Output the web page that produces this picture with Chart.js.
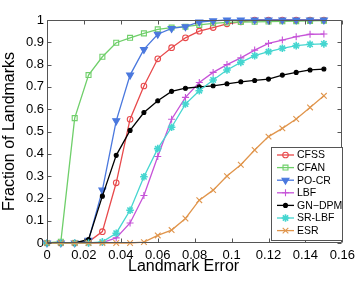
<!DOCTYPE html>
<html>
<head>
<meta charset="utf-8">
<script src="https://cdn.jsdelivr.net/npm/chart.js@4/dist/chart.umd.min.js"></script>
<style>
  html, body { margin: 0; padding: 0; background: #fff; }
  #wrap { width: 360px; height: 282px; position: relative; }
</style>
</head>
<body>
<div id="wrap"><canvas id="c" width="360" height="282"></canvas></div>
<script>
// Landmark error thresholds (x positions of the markers)
const errors = [0, 0.0075, 0.015, 0.0225, 0.03, 0.0375, 0.045, 0.0525, 0.06, 0.0675, 0.075,
                0.0825, 0.09, 0.0975, 0.105, 0.1125, 0.12, 0.1275, 0.135, 0.1425, 0.15];

const seriesNames = ['CFSS', 'CFAN', 'PO-CR', 'LBF', 'GN\u2212DPM', 'SR-LBF', 'ESR'];

const cfss  = [0, 0, 0, 0.005, 0.051, 0.27, 0.555, 0.704, 0.826, 0.876, 0.92, 0.95, 0.966, 0.983, 0.992, 1, 1, 1, 1, 1, 1];
const cfan  = [0, 0.006, 0.56, 0.753, 0.835, 0.898, 0.92, 0.94, 0.958, 0.966, 0.97, 0.978, 0.985, 0.989, 0.991, 0.992, 0.993, 0.994, 0.995, 0.996, 0.997];
const pocr  = [0, 0, 0, 0.012, 0.237, 0.548, 0.753, 0.868, 0.936, 0.962, 0.97, 0.991, 0.996, 1, 1, 1, 1, 1, 1, 1, 1];
const lbf   = [0, 0, 0, 0, 0.002, 0.023, 0.09, 0.213, 0.388, 0.555, 0.653, 0.72, 0.765, 0.80, 0.83, 0.865, 0.895, 0.91, 0.925, 0.936, 0.937];
const gndpm = [0, 0, 0, 0.016, 0.21, 0.393, 0.505, 0.585, 0.638, 0.68, 0.694, 0.70, 0.705, 0.714, 0.723, 0.729, 0.735, 0.753, 0.765, 0.776, 0.78];
const srlbf = [0, 0, 0, 0, 0.005, 0.044, 0.147, 0.297, 0.423, 0.519, 0.623, 0.683, 0.731, 0.776, 0.81, 0.84, 0.858, 0.873, 0.885, 0.891, 0.893];
const esr   = [0, 0, 0, 0, 0, 0, 0, 0.004, 0.034, 0.058, 0.11, 0.192, 0.237, 0.30, 0.351, 0.417, 0.477, 0.514, 0.556, 0.608, 0.66];

const xTicks = [0, 0.02, 0.04, 0.06, 0.08, 0.1, 0.12, 0.14, 0.16];
const yTicks = [0, 0.1, 0.2, 0.3, 0.4, 0.5, 0.6, 0.7, 0.8, 0.9, 1];
const xTickLabels = ['0', '0.02', '0.04', '0.06', '0.08', '0.1', '0.12', '0.14', '0.16'];
const yTickLabels = ['0', '0.1', '0.2', '0.3', '0.4', '0.5', '0.6', '0.7', '0.8', '0.9', '1'];

const allValues = [cfss, cfan, pocr, lbf, gndpm, srlbf, esr];

const styles = [
  { color: '#e8494b', pointStyle: 'circle',   radius: 2.8, rotation: 0,   fill: false },
  { color: '#6fcf6a', pointStyle: 'rect',     radius: 3.5, rotation: 0,   fill: false },
  { color: '#4a78de', pointStyle: 'triangle', radius: 4,   rotation: 180, fill: true  },
  { color: '#c653d8', pointStyle: 'cross',    radius: 3.5, rotation: 0,   fill: false },
  { color: '#000000', pointStyle: 'circle',   radius: 2,   rotation: 0,   fill: true  },
  { color: '#45d6d0', pointStyle: 'star',     radius: 3.8, rotation: 0,   fill: true  },
  { color: '#e0954c', pointStyle: 'crossRot', radius: 4,   rotation: 0,   fill: false }
];

const FONT = "'Liberation Sans', Arial, Helvetica, sans-serif";

const datasets = allValues.map((vals, i) => ({
  label: seriesNames[i],
  data: vals.map((v, k) => ({ x: errors[k], y: v })),
  borderColor: styles[i].color,
  backgroundColor: styles[i].fill ? styles[i].color : 'rgba(0,0,0,0)',
  pointBorderColor: styles[i].color,
  pointBackgroundColor: styles[i].fill ? styles[i].color : 'rgba(0,0,0,0)',
  pointStyle: styles[i].pointStyle,
  pointRadius: styles[i].radius,
  pointRotation: styles[i].rotation,
  pointBorderWidth: styles[i].pointStyle === 'star' ? 1.6 : 1.1,
  pointHoverRadius: styles[i].radius,
  borderWidth: 1.3,
  tension: 0,
  fill: false,
  clip: false,
  order: allValues.length - i
}));

function drawMarker(ctx, st, x, y) {
  ctx.save();
  ctx.strokeStyle = st.color;
  ctx.fillStyle = st.fill ? st.color : 'rgba(0,0,0,0)';
  ctx.lineWidth = st.pointStyle === 'star' ? 1.6 : 1.1;
  if (Chart.helpers && Chart.helpers.drawPoint) {
    Chart.helpers.drawPoint(ctx, { pointStyle: st.pointStyle, rotation: st.rotation, radius: st.radius, borderWidth: ctx.lineWidth }, x, y);
  }
  ctx.restore();
}

const framePlugin = {
  id: 'frame',
  afterDatasetsDraw(chart) {
    const { ctx, chartArea: a, scales } = chart;
    ctx.save();
    // box
    ctx.strokeStyle = '#555';
    ctx.lineWidth = 1;
    const L = Math.round(a.left) + 0.5, R = Math.round(a.right) - 0.5;
    const T = Math.round(a.top) + 0.5, B = Math.round(a.bottom) - 0.5;
    ctx.beginPath();
    ctx.rect(L, T, R - L, B - T);
    ctx.stroke();
    // inward ticks
    const tl = 4;
    ctx.beginPath();
    xTicks.forEach(v => {
      const px = Math.round(scales.x.getPixelForValue(v)) + 0.5;
      ctx.moveTo(px, B); ctx.lineTo(px, B - tl);
      ctx.moveTo(px, T); ctx.lineTo(px, T + tl);
    });
    yTicks.forEach(v => {
      const py = Math.round(scales.y.getPixelForValue(v)) + 0.5;
      ctx.moveTo(L, py); ctx.lineTo(L + tl, py);
      ctx.moveTo(R, py); ctx.lineTo(R - tl, py);
    });
    ctx.stroke();

    // legend (inside, bottom-right)
    const lx = 271, ly = 147, lw = 71, lh = 93;
    ctx.fillStyle = '#fff';
    ctx.fillRect(lx, ly, lw, lh);
    ctx.strokeStyle = '#555';
    ctx.strokeRect(lx + 0.5, ly + 0.5, lw, lh);
    ctx.font = '10.5px ' + FONT;
    ctx.textBaseline = 'middle';
    ctx.textAlign = 'left';
    seriesNames.forEach((name, i) => {
      const y = 155 + i * 12.6;
      const st = styles[i];
      ctx.strokeStyle = st.color;
      ctx.lineWidth = 1.3;
      ctx.beginPath();
      ctx.moveTo(277, y); ctx.lineTo(294, y);
      ctx.stroke();
      drawMarker(ctx, st, 285.5, y);
      ctx.fillStyle = '#000';
      ctx.fillText(name, 297, y + 0.5);
    });
    ctx.restore();
  }
};

new Chart(document.getElementById('c'), {
  type: 'line',
  data: { datasets },
  plugins: [framePlugin],
  options: {
    responsive: false,
    animation: false,
    devicePixelRatio: 1,
    layout: { padding: { top: 20, right: 15, left: 0, bottom: 0 } },
    plugins: { legend: { display: false }, tooltip: { enabled: false } },
    scales: {
      x: {
        type: 'linear', min: 0, max: 0.16,
        afterBuildTicks: s => { s.ticks = xTicks.map(v => ({ value: v })); },
        afterFit: s => { s.height = 39; },
        grid: { display: false, drawTicks: false },
        border: { display: false },
        ticks: {
          padding: 5, color: '#000', maxRotation: 0, autoSkip: false,
          font: { family: FONT, size: 13 },
          callback: (v) => xTickLabels[xTicks.indexOf(v)] ?? ''
        },
        title: {
          display: true, text: 'Landmark Error     ', color: '#000',
          font: { family: FONT, size: 16 }, padding: { top: 0, bottom: 6 }
        }
      },
      y: {
        type: 'linear', min: 0, max: 1,
        afterBuildTicks: s => { s.ticks = yTicks.map(v => ({ value: v })); },
        afterFit: s => { s.width = 47; },
        grid: { display: false, drawTicks: false },
        border: { display: false },
        ticks: {
          padding: 3, color: '#000', autoSkip: false,
          font: { family: FONT, size: 13 },
          callback: (v) => yTickLabels[yTicks.indexOf(v)] ?? ''
        },
        title: {
          display: true, text: 'Fraction of Landmarks', color: '#000',
          font: { family: FONT, size: 16 }, padding: { top: 0, bottom: 0 }
        }
      }
    }
  }
});
</script>
</body>
</html>
